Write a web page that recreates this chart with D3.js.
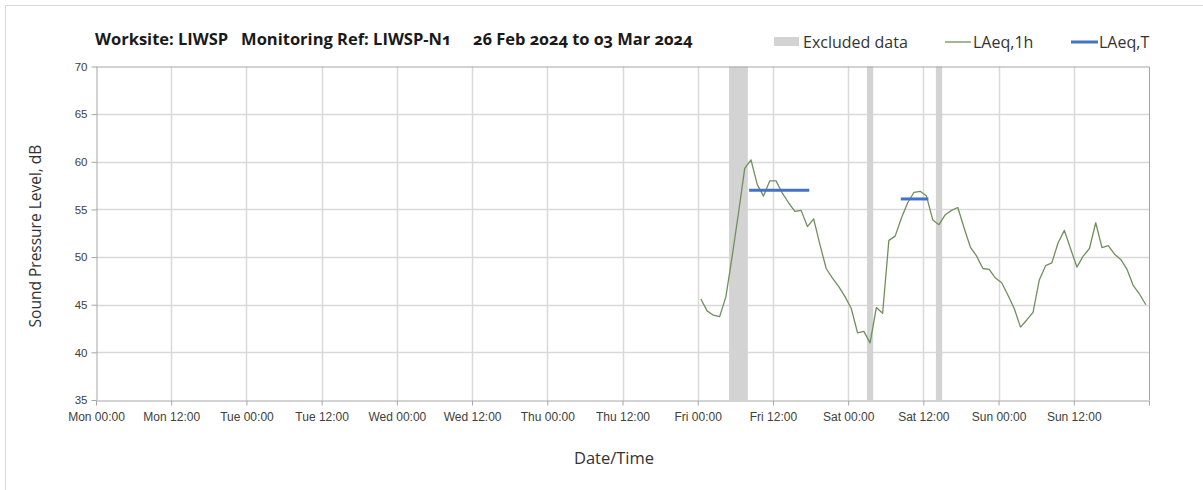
<!DOCTYPE html>
<html>
<head>
<meta charset="utf-8">
<script src="https://cdn.jsdelivr.net/npm/d3@7"></script>
<style>
  body { margin: 0; background: #fff; }
  svg { display: block; font-family: "Open Sans", "Noto Sans", sans-serif; }
</style>
</head>
<body>
<div id="chart"></div>
<script>
// hours since Mon 00:00, tick every 12h
var tickHours = [0, 12, 24, 36, 48, 60, 72, 84, 96, 108, 120, 132, 144, 156, 168];
var tickLabels = ["Mon 00:00", "Mon 12:00", "Tue 00:00", "Tue 12:00", "Wed 00:00", "Wed 12:00",
  "Thu 00:00", "Thu 12:00", "Fri 00:00", "Fri 12:00", "Sat 00:00", "Sat 12:00",
  "Sun 00:00", "Sun 12:00", ""];
var yTicks = [35, 40, 45, 50, 55, 60, 65, 70];

// LAeq,1h - hourly, first value Fri 00:00-01:00
var firstHour = 96;
var laeq1h = [45.6, 44.35, 43.9, 43.75, 45.85, 50.1, 54.6, 59.3, 60.2, 57.6, 56.4, 58.0,
  58.0, 56.7, 55.7, 54.8, 54.9, 53.2, 54.0, 51.3, 48.8, 47.8, 46.9, 45.85,
  44.6, 42.05, 42.2, 41.0, 44.7, 44.1, 51.75, 52.2, 54.1, 55.7, 56.8, 56.9,
  56.4, 53.9, 53.4, 54.45, 54.9, 55.2, 53.05, 51.05, 50.1, 48.8, 48.7, 47.8,
  47.3, 46.0, 44.6, 42.65, 43.4, 44.2, 47.6, 49.1, 49.4, 51.5, 52.8, 50.85,
  48.95, 50.1, 50.9, 53.6, 51.0, 51.2, 50.3, 49.75, 48.7, 47.0, 46.1, 45.0];

// LAeq,T periods: start hour, end hour, level
var laeqTStart = [104.2, 128.4];
var laeqTEnd = [113.8, 132.8];
var laeqTValue = [57.0, 56.1];

// excluded data periods
var exclStart = [101, 123, 134];
var exclEnd = [104, 124, 135];

var W = 1203, H = 490;
var pLeft = 96, pRight = 1149, pTop = 66.5, pBottom = 400;

var svg = d3.select("#chart").append("svg").attr("width", W).attr("height", H);

// outer chart border (only top/left visible)
svg.append("path").attr("d", "M5.5," + H + " L5.5,5.5 L" + W + ",5.5")
  .attr("stroke", "#d9d9d9").attr("fill", "none");

var x = d3.scaleLinear().domain([0, 168]).range([pLeft, pRight]);
var y = d3.scaleLinear().domain([35, 70]).range([pBottom, pTop]);

// gridlines
svg.append("g").selectAll("line").data(yTicks.slice(1, -1)).join("line")
  .attr("x1", pLeft).attr("x2", pRight)
  .attr("y1", function(d) { return Math.round(y(d)) + 0.5; })
  .attr("y2", function(d) { return Math.round(y(d)) + 0.5; })
  .attr("stroke", "#d9d9d9").attr("stroke-width", 1.5);
svg.append("g").selectAll("line").data(tickHours.slice(1, -1)).join("line")
  .attr("x1", function(d) { return Math.round(x(d)) + 0.5; })
  .attr("x2", function(d) { return Math.round(x(d)) + 0.5; })
  .attr("y1", pTop).attr("y2", pBottom)
  .attr("stroke", "#d9d9d9").attr("stroke-width", 1.5);

// excluded bands
svg.append("g").selectAll("rect").data(exclStart).join("rect")
  .attr("x", function(d) { return x(d); })
  .attr("width", function(d, i) { return x(exclEnd[i]) - x(d); })
  .attr("y", pTop).attr("height", pBottom - pTop)
  .attr("fill", "#d3d3d3");

// plot frame top/right
svg.append("path")
  .attr("d", "M" + pLeft + "," + (pTop + 0.5) + " L" + (pRight + 0.5) + "," + (pTop + 0.5) + " L" + (pRight + 0.5) + "," + pBottom)
  .attr("stroke", "#a6a6a6").attr("fill", "none");

// axes
var xAxis = d3.axisBottom(x).tickValues(tickHours)
  .tickFormat(function(d, i) { return tickLabels[i]; })
  .tickSize(5).tickSizeOuter(0).tickPadding(7);
var gx = svg.append("g").attr("transform", "translate(0," + (pBottom + 0.5) + ")").call(xAxis);
gx.select(".domain").attr("stroke", "#a6a6a6");
gx.selectAll(".tick line").attr("stroke", "#a6a6a6");
gx.selectAll("text").attr("font-size", 12).attr("fill", "#404040");

var yAxis = d3.axisLeft(y).tickValues(yTicks).tickSize(5).tickSizeOuter(0).tickPadding(4);
var gy = svg.append("g").attr("transform", "translate(" + (pLeft + 0.5) + ",0)").call(yAxis);
gy.select(".domain").attr("stroke", "#a6a6a6");
gy.selectAll(".tick line").attr("stroke", "#a6a6a6");
gy.selectAll("text").attr("font-size", 11.5).attr("fill", "#404040")
  .style("font-variant-numeric", "oldstyle-nums");

// LAeq,1h line
var line = d3.line()
  .x(function(d, i) { return x(firstHour + i + 0.5); })
  .y(function(d) { return y(d); });
svg.append("path").datum(laeq1h).attr("d", line)
  .attr("fill", "none").attr("stroke", "#718f5c").attr("stroke-width", 1.3)
  .attr("stroke-linejoin", "round");

// LAeq,T segments
svg.append("g").selectAll("line").data(laeqTStart).join("line")
  .attr("x1", function(d) { return x(d); })
  .attr("x2", function(d, i) { return x(laeqTEnd[i]); })
  .attr("y1", function(d, i) { return y(laeqTValue[i]); })
  .attr("y2", function(d, i) { return y(laeqTValue[i]); })
  .attr("stroke", "#4472c4").attr("stroke-width", 3);

// title
svg.append("text").attr("x", 95).attr("y", 45)
  .attr("font-size", 16.5).attr("font-weight", "bold").attr("fill", "#1a1a1a")
  .attr("xml:space", "preserve")
  .style("font-variant-numeric", "oldstyle-nums")
  .text("Worksite: LIWSP   Monitoring Ref: LIWSP-N1     26 Feb 2024 to 03 Mar 2024");

// legend
var lg = svg.append("g");
lg.append("rect").attr("x", 774).attr("y", 37).attr("width", 25).attr("height", 9).attr("fill", "#d3d3d3");
lg.append("text").attr("x", 803).attr("y", 48).attr("font-size", 16).attr("fill", "#333").text("Excluded data");
lg.append("line").attr("x1", 945).attr("x2", 971).attr("y1", 42).attr("y2", 42)
  .attr("stroke", "#718f5c").attr("stroke-width", 1.3);
lg.append("text").attr("x", 973).attr("y", 48).attr("font-size", 16).attr("fill", "#333").text("LAeq,1h");
lg.append("line").attr("x1", 1071).attr("x2", 1098).attr("y1", 42).attr("y2", 42)
  .attr("stroke", "#4472c4").attr("stroke-width", 3);
lg.append("text").attr("x", 1099).attr("y", 48).attr("font-size", 16).attr("fill", "#333").text("LAeq,T");

// axis titles
svg.append("text").attr("x", 614).attr("y", 464).attr("text-anchor", "middle")
  .attr("font-size", 16.5).attr("fill", "#333").text("Date/Time");
svg.append("text").attr("transform", "translate(41,236) rotate(-90)")
  .attr("text-anchor", "middle").attr("font-size", 15.5).attr("fill", "#333")
  .text("Sound Pressure Level, dB");
</script>
</body>
</html>
